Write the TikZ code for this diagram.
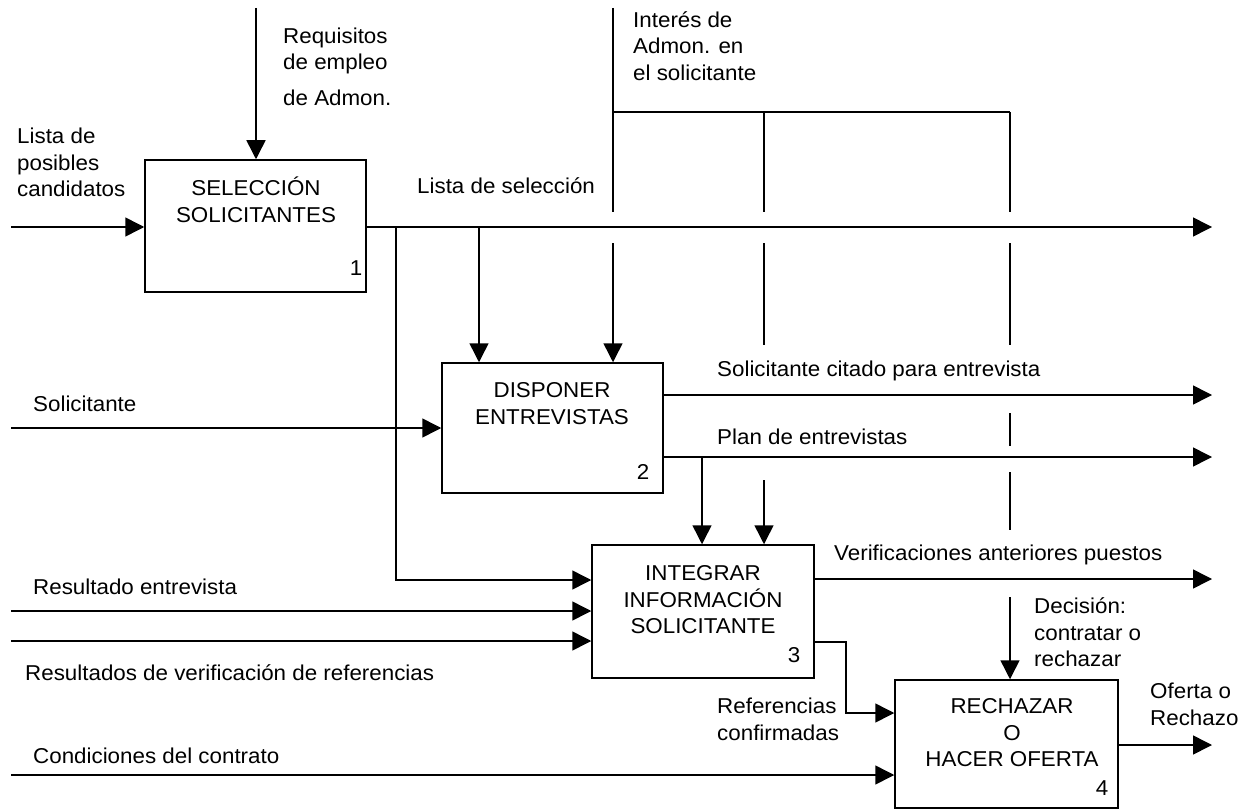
\documentclass[tikz,border=0pt]{standalone}
\usepackage{fontspec}
\setmainfont{Liberation Sans}[FakeStretch=1.04]
\usetikzlibrary{arrows.meta}
\begin{document}
\begin{tikzpicture}[x=1pt,y=-1pt,
  ln/.style={line width=1.5pt},
  arr/.style={line width=1.5pt,-{Triangle[length=19pt,width=19pt]}},
  box/.style={draw,line width=1.5pt,inner sep=0pt},
  lbl/.style={font=\fontsize{21.5}{26.5}\selectfont,inner sep=0pt,align=left,anchor=west},
  btxt/.style={font=\fontsize{21.5}{26.5}\selectfont,inner sep=0pt,align=center},
  num/.style={font=\fontsize{21.5}{26.5}\selectfont,inner sep=0pt}
]
\useasboundingbox (0,0) rectangle (1246,810);

% boxes
\node[box,minimum width=221pt,minimum height=132pt] (b1) at (255.5,226) {};
\node[box,minimum width=221pt,minimum height=130pt] (b2) at (552.5,428) {};
\node[box,minimum width=222pt,minimum height=133pt] (b3) at (703,611.5) {};
\node[box,minimum width=223pt,minimum height=128pt] (b4) at (1006.5,744) {};

\node[btxt] (t1) at (256,200) {SELECCIÓN\\SOLICITANTES};
\node[btxt] (t2) at (552,403.5) {DISPONER\\ENTREVISTAS};
\node[btxt] (t3) at (703,600) {INTEGRAR\\INFORMACIÓN\\SOLICITANTE};
\node[btxt] (t4) at (1012,733) {RECHAZAR\\O\\HACER OFERTA};
\node[num] (n1) at (356,268) {1};
\node[num] (n2) at (643,472) {2};
\node[num] (n3) at (794,655) {3};
\node[num] (n4) at (1102,788) {4};

% labels
\node[lbl] (l1) at (283,66.5) {Requisitos\\de empleo\\[9pt]de Admon.};
\node[lbl] (l2) at (17,162.5) {Lista de\\posibles\\candidatos};
\node[lbl] (l3) at (417,186) {Lista de selección};
\node[lbl] (l4) at (633,46) {Interés\hspace{6pt}de\\Admon. en\\el solicitante};
\node[lbl] (l5) at (33,404) {Solicitante};
\node[lbl] (l6) at (717,371) {Solicitante citado para entrevista};
\node[lbl] (l7) at (717,437) {Plan de entrevistas};
\node[lbl] (l8) at (834,555) {Verificaciones anteriores puestos};
\node[lbl] (l9) at (33,587) {Resultado entrevista};
\node[lbl] (l10) at (25,673) {Resultados de verificación de referencias};
\node[lbl] (l11) at (717,719.5) {Referencias\\confirmadas};
\node[lbl] (l12) at (33,756) {Condiciones del contrato};
\node[lbl] (l13) at (1034,632.5) {Decisión:\\contratar o\\rechazar};
\node[lbl] (l14) at (1150,704.5) {Oferta o\\Rechazo};

% coordinates
\coordinate (p1) at (11,227);
\coordinate (p2) at (256,8);
\coordinate (o1) at (1212,227);
\coordinate (j1) at (396,227);
\coordinate (j2) at (479,227);
\coordinate (ra) at (0,580);
\coordinate (i0) at (613,8);
\coordinate (i1) at (613,212);
\coordinate (i2) at (613,243);
\coordinate (h1) at (613,112);
\coordinate (h2) at (764,112);
\coordinate (h3) at (1010,112);
\coordinate (m1) at (764,212);
\coordinate (m2) at (764,243);
\coordinate (m3) at (764,345);
\coordinate (m4) at (764,480);
\coordinate (r1) at (1010,212);
\coordinate (r2) at (1010,243);
\coordinate (r3) at (1010,345);
\coordinate (r4) at (1010,413);
\coordinate (r5) at (1010,446);
\coordinate (r6) at (1010,472);
\coordinate (r7) at (1010,530);
\coordinate (d1) at (1010,597);
\coordinate (p3) at (11,428);
\coordinate (o2) at (1212,395);
\coordinate (o3) at (1212,457);
\coordinate (j3) at (702,457);
\coordinate (p4) at (11,611);
\coordinate (p6) at (11,641);
\coordinate (o4) at (1212,579);
\coordinate (k1) at (846,642);
\coordinate (k2) at (846,713);
\coordinate (p5) at (11,775);
\coordinate (o5) at (1212,745);

% connectors
\draw[arr] (p1) -- (p1 -| b1.west);
\draw[arr] (p2) -- (p2 |- b1.north);
\draw[arr] (o1 -| b1.east) -- (o1);
\draw[arr] (j1) -- (j1 |- ra) -- (ra -| b3.west);
\draw[arr] (j2) -- (j2 |- b2.north);

\draw[ln] (i0) -- (i1);
\draw[arr] (i2) -- (i2 |- b2.north);
\draw[ln] (h1) -- (h3);
\draw[ln] (h2) -- (m1);
\draw[ln] (m2) -- (m3);
\draw[arr] (m4) -- (m4 |- b3.north);
\draw[ln] (h3) -- (r1);
\draw[ln] (r2) -- (r3);
\draw[ln] (r4) -- (r5);
\draw[ln] (r6) -- (r7);
\draw[arr] (d1) -- (d1 |- b4.north);

\draw[arr] (p3) -- (p3 -| b2.west);
\draw[arr] (o2 -| b2.east) -- (o2);
\draw[arr] (o3 -| b2.east) -- (o3);
\draw[arr] (j3) -- (j3 |- b3.north);

\draw[arr] (p4) -- (p4 -| b3.west);
\draw[arr] (p6) -- (p6 -| b3.west);
\draw[arr] (o4 -| b3.east) -- (o4);
\draw[arr] (k1 -| b3.east) -- (k1) -- (k2) -- (k2 -| b4.west);

\draw[arr] (p5) -- (p5 -| b4.west);
\draw[arr] (o5 -| b4.east) -- (o5);
\end{tikzpicture}
\end{document}
